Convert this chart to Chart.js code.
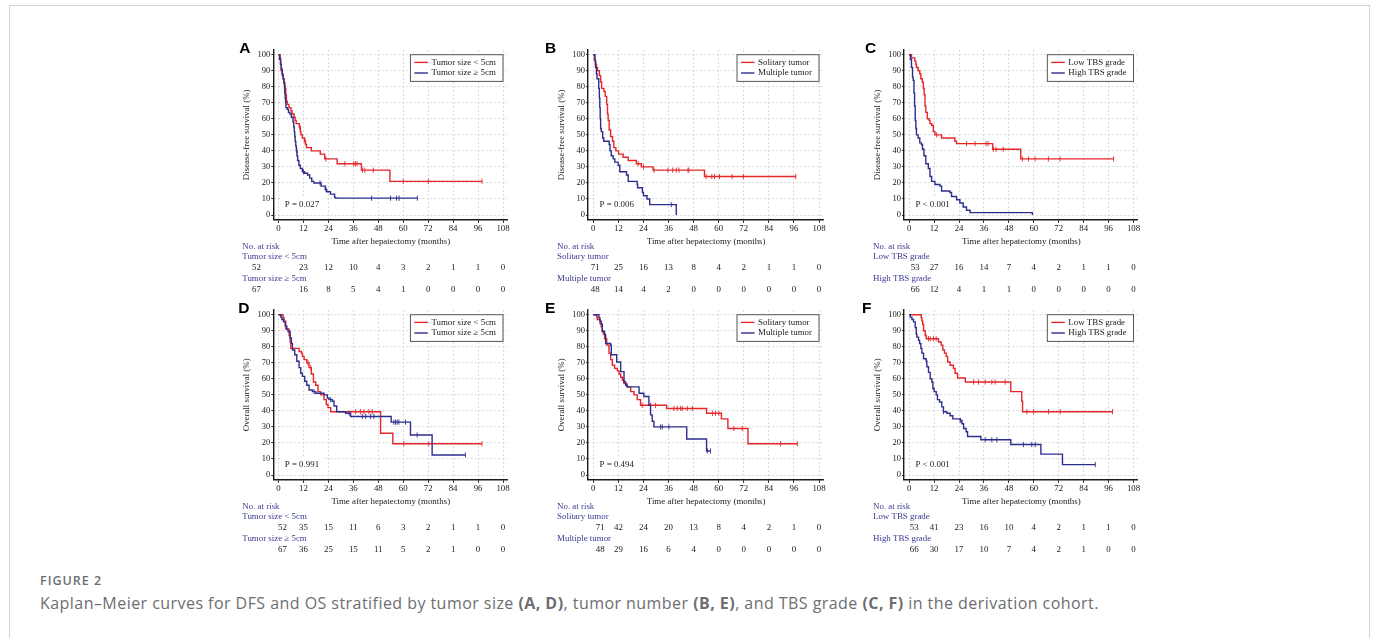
<!DOCTYPE html>
<html>
<head>
<meta charset="utf-8">
<script src="https://cdn.jsdelivr.net/npm/chart.js@4.4.0/dist/chart.umd.min.js"></script>
<style>
html, body { margin: 0; padding: 0; background: #fff; }
body { width: 1373px; height: 638px; position: relative; overflow: hidden; }
#frame { position: absolute; left: 9px; top: 5px; width: 1359px; height: 700px; border: 1px solid #d2d2d2; }
canvas { position: absolute; }
#figlabel { position: absolute; left: 40px; top: 572px; font: 600 12.5px "Open Sans"; letter-spacing: 1px; color: #6d6e71; }
#caption { position: absolute; left: 40px; top: 592px; font: 16px "Open Sans"; letter-spacing: 0.45px; color: #6d6e71; white-space: nowrap; }
#caption b { font-weight: 700; }
</style>
</head>
<body>
<div id="frame"></div>
<div id="figlabel">FIGURE 2</div>
<div id="caption">Kaplan–Meier curves for DFS and OS stratified by tumor size <b>(A, D)</b>, tumor number <b>(B, E)</b>, and TBS grade <b>(C, F)</b> in the derivation cohort.</div>
<script>
// axis ticks
const xTicks = [0, 12, 24, 36, 48, 60, 72, 84, 96, 108];
const yTicks = [0, 10, 20, 30, 40, 50, 60, 70, 80, 90, 100];

// group names
const sizeGroups = ["Tumor size < 5cm", "Tumor size \u2265 5cm"];
const numberGroups = ["Solitary tumor", "Multiple tumor"];
const tbsGroups = ["Low TBS grade", "High TBS grade"];

// DFS curves [month, %]
const dfsSizeLow = [[0,100],[0.8,98],[1.0,94],[1.3,90],[1.8,87],[2.3,85],[2.6,83],[3,81],[3.2,79],[3.5,75],[3.8,71],[4.2,69],[5,67],[6,65],[6.5,63],[7.5,61],[8,59],[8.5,57],[10,55],[10.5,52],[10.8,50],[11.5,48],[12.5,46],[13,44],[13.5,42],[15.8,40],[20.1,38],[22.2,35],[28.2,32],[39.9,28],[53.6,21],[97.9,21]];
const dfsSizeHigh = [[0,100],[0.5,97],[1,94],[1.3,91],[1.8,88],[2.2,85],[2.6,82],[2.9,79],[3,76],[3.2,73],[3.4,70],[3.6,67],[4.2,66],[4.8,64],[5.5,63],[6.2,61],[7,58],[7.3,55],[7.6,52],[7.8,49],[8,46],[8.3,43],[8.6,40],[8.9,37],[9.2,34],[9.8,31],[10.5,29],[11.5,27],[12.5,26],[14,25],[15,23],[16,21],[17,20],[20.5,18],[22.5,16],[23.2,14.5],[25,13],[27,11],[27.5,10.5],[66.8,10.5]];
const dfsSolitary = [[0,100],[0.5,97],[1,94],[1.5,92],[2,90],[2.9,87],[3.5,83],[4,79],[5.1,77],[5.7,74],[6.4,69],[6.8,63],[7.1,59],[7.6,53],[8.3,49],[9.2,46],[9.8,42],[10.8,40],[12.1,38],[14.3,36],[16.7,34],[20.6,32],[23,30],[28.6,28],[53.2,24],[97,24]];
const dfsMultiple = [[0,100],[0.8,96],[1.1,92],[1.5,88],[1.8,85],[2.6,79],[2.9,73],[3.1,67],[3.3,60],[3.5,54],[3.8,52],[4.5,48],[5,46],[7.6,44],[8,40],[8.6,37],[9.5,35],[10.3,33],[11.9,31],[12.7,27],[15.9,25],[16.7,21],[21,19],[21.2,17],[23.5,14],[24,12],[25.7,10],[27,6.5],[39.7,0]];
const dfsTbsLow = [[0,100],[1.1,98],[2.7,96],[3.2,94],[3.5,92],[4.3,90],[5.1,88],[5.6,85],[6.3,83],[6.8,79],[7.2,75],[7.6,68],[8,64],[8.7,60],[9.6,59],[10,57],[10.8,56],[11.6,52],[12.4,50],[15.6,48],[22,46],[22.8,44.5],[40.2,41],[53.7,35],[98.4,35]];
const dfsTbsHigh = [[0,100],[0.6,97],[1.1,92],[1.6,86],[1.9,84],[2.3,76],[2.6,68],[2.9,59],[3.2,54],[3.5,50],[4.3,48],[5.1,45],[5.9,44],[6.4,41],[7.1,37],[8,32],[9.2,29],[10,24],[10.8,21],[12.4,19],[14.8,18],[15.6,15],[19.6,14],[20.4,11.5],[22.8,9.5],[24.4,7.5],[26,5],[27.6,3],[29.3,1.5],[59.3,0]];

// OS curves [month, %]
const osSizeLow = [[0,100],[2.2,98],[2.7,96],[3.5,91],[5.1,87],[5.6,83],[5.9,79],[9.9,77],[11,76],[11.5,74],[12.3,72],[13.6,70],[14.7,67],[15.8,63],[16.8,58],[17.9,56],[19,52],[20.3,50],[21.9,47],[23,44],[23.8,42],[25.1,39.5],[49.1,26],[55,19.5],[97.9,19.5]];
const osSizeHigh = [[0,100],[1.1,98.5],[1.6,97],[2.4,95.5],[3.2,93],[4,91],[4.6,89.5],[5.6,85.5],[6.2,82],[6.7,78],[7.8,75],[8.8,71],[9.9,67],[10.7,63.5],[11.5,61.5],[12.6,58.5],[13.6,56],[14.7,53],[16.3,52],[17.9,51],[21.9,50],[23.5,48],[24.3,47],[25.9,46],[26.7,43],[28,39.5],[32.3,38.5],[34.7,36.5],[54.2,33],[63.5,25],[73.9,12.5],[89.9,12.5]];
const osSolitary = [[0,100],[1.6,98.5],[1.9,97],[3.2,94.5],[3.8,92.5],[4.3,90],[4.8,88],[5.4,85],[6.4,81],[7.5,76],[8.3,72],[9.1,68.5],[10.2,66.5],[11.5,65],[12.3,63],[13.1,61],[13.9,59],[14.7,57],[16,55],[17.9,52],[19.5,50],[21,47],[22.6,43.5],[35.1,41.5],[54.2,38.5],[61.3,35],[64.4,29],[74,19.5],[97.6,19.5]];
const osMultiple = [[0,100],[2.7,98],[3.2,96],[3.8,94],[4.3,89.5],[5.4,87.5],[5.9,82],[8.3,81],[8.6,75],[11.2,70.5],[13.1,64.5],[14.7,58],[15.5,56],[16.3,55],[21.9,51],[24.2,49],[26.6,43.5],[27.4,37.5],[28.2,33.5],[29,30],[44.7,22.5],[54.2,15],[56.1,15]];
const osTbsLow = [[0,100],[5.8,98],[6.1,96],[6.5,94],[6.9,90],[7.7,87],[8.2,85],[14.1,83],[15.4,81],[16.2,78],[17,76],[17.8,74],[18.5,70.5],[19.7,68.5],[21.3,66.5],[22.1,63.5],[23.3,60.5],[27,58],[48.9,52],[54.2,46],[54.6,39.5],[97.9,39.5]];
const osTbsHigh = [[0,100],[0.5,98.5],[1.3,97],[2.1,95.5],[2.9,92],[3.4,88],[3.7,86],[4.5,84],[5,82],[5.6,79],[6.1,76],[6.9,72.5],[8.2,71],[8.5,67.5],[9.3,64],[10.1,60],[10.9,58],[11.4,54],[12,52],[13,50],[13.6,47],[14.6,45.5],[15.7,42.5],[16.5,39.5],[18.1,38.5],[19.7,37],[21,35],[24.6,34],[25.4,32],[26.2,29],[27.4,27],[28.1,24],[34.5,22],[48.9,19],[63.4,13],[73.8,6.5],[89.6,6.5]];

// censored times (months)
const cDfsSizeLow = [10.2, 12.8, 22.8, 31.9, 36.2, 37, 37.8, 40.4, 41.5, 45.6, 60, 72.1, 97.9];
const cDfsSizeHigh = [8.8, 12, 20, 22.8, 44.8, 53.9, 56.8, 58, 66.8];
const cDfsSolitary = [21.5, 24, 29, 35.7, 38, 39.7, 41, 45.3, 45.7, 54, 56.7, 58, 60.4, 66.4, 71.8, 96.9];
const cDfsMultiple = [37.3];
const cDfsTbsLow = [13.2, 27.6, 31.7, 37, 38, 40.5, 41.8, 45.3, 54.5, 57.4, 60.6, 67, 72.6, 98.4];
const cDfsTbsHigh = [];
const cOsSizeLow = [14.2, 15.5, 37.1, 39.5, 41.1, 43.5, 45.1, 60.3, 72.3, 97.9];
const cOsSizeHigh = [17.1, 25.1, 34, 40.3, 41.9, 44.3, 45.9, 55.5, 56.3, 57.1, 57.9, 61.1, 66.7, 89.9];
const cOsSolitary = [14.5, 23.4, 27.4, 29.8, 38.6, 40.2, 41.8, 42.6, 45, 47.4, 57, 58.5, 60.1, 67.3, 71.3, 89.6, 97.6];
const cOsMultiple = [32.2, 33, 36.2, 54.6, 56.1];
const cOsTbsLow = [9.3, 10.1, 11.7, 13, 31, 33.4, 36.6, 39.8, 41.4, 46.2, 56.7, 59.9, 67.1, 72.7, 97.9];
const cOsTbsHigh = [16.5, 24.6, 36.6, 39.8, 42.2, 55, 59, 60.7, 89.6];

// numbers at risk
const riskDfsSizeLow = [52, 23, 12, 10, 4, 3, 2, 1, 1, 0];
const riskDfsSizeHigh = [67, 16, 8, 5, 4, 1, 0, 0, 0, 0];
const riskDfsSolitary = [71, 25, 16, 13, 8, 4, 2, 1, 1, 0];
const riskDfsMultiple = [48, 14, 4, 2, 0, 0, 0, 0, 0, 0];
const riskDfsTbsLow = [53, 27, 16, 14, 7, 4, 2, 1, 1, 0];
const riskDfsTbsHigh = [66, 12, 4, 1, 1, 0, 0, 0, 0, 0];
const riskOsSizeLow = [52, 35, 15, 11, 6, 3, 2, 1, 1, 0];
const riskOsSizeHigh = [67, 36, 25, 15, 11, 5, 2, 1, 0, 0];
const riskOsSolitary = [71, 42, 24, 20, 13, 8, 4, 2, 1, 0];
const riskOsMultiple = [48, 29, 16, 6, 4, 0, 0, 0, 0, 0];
const riskOsTbsLow = [53, 41, 23, 16, 10, 4, 2, 1, 1, 0];
const riskOsTbsHigh = [66, 30, 17, 10, 7, 4, 2, 1, 0, 0];

const RED = "#e5262b";
const BLUE = "#2c2e8c";
const NAVY_TXT = "#3a3a94";
const TXT = "#1a1a1a";
const SERIF = '8.9px "Liberation Serif"';

// page geometry of each column / row (pixel of x=0, x=108, y=100, y=0)
const cols = [{ t0: 278.5, t108: 503 }, { t0: 593.3, t108: 819 }, { t0: 909.2, t108: 1133.5 }];
const rows = [{ y100: 54.7, y0: 215 }, { y100: 314.7, y0: 475 }];
const X_MIN = -2.5, X_MAX = 110, Y_MIN = -3, Y_MAX = 103;

const panels = [
  { letter: "A", col: 0, row: 0, red: dfsSizeLow, blue: dfsSizeHigh, cRed: cDfsSizeLow, cBlue: cDfsSizeHigh, groups: sizeGroups, risk: [riskDfsSizeLow, riskDfsSizeHigh], p: "P = 0.027", title: "Disease-free survival (%)", letterDx: -34, firstShift: -22 },
  { letter: "B", col: 1, row: 0, red: dfsSolitary, blue: dfsMultiple, cRed: cDfsSolitary, cBlue: cDfsMultiple, groups: numberGroups, risk: [riskDfsSolitary, riskDfsMultiple], p: "P = 0.006", title: "Disease-free survival (%)", letterDx: -43, firstShift: 2 },
  { letter: "C", col: 2, row: 0, red: dfsTbsLow, blue: dfsTbsHigh, cRed: cDfsTbsLow, cBlue: cDfsTbsHigh, groups: tbsGroups, risk: [riskDfsTbsLow, riskDfsTbsHigh], p: "P < 0.001", title: "Disease-free survival (%)", letterDx: -39, firstShift: 6 },
  { letter: "D", col: 0, row: 1, red: osSizeLow, blue: osSizeHigh, cRed: cOsSizeLow, cBlue: cOsSizeHigh, groups: sizeGroups, risk: [riskOsSizeLow, riskOsSizeHigh], p: "P = 0.991", title: "Overall survival (%)", letterDx: -35, firstShift: 4 },
  { letter: "E", col: 1, row: 1, red: osSolitary, blue: osMultiple, cRed: cOsSolitary, cBlue: cOsMultiple, groups: numberGroups, risk: [riskOsSolitary, riskOsMultiple], p: "P = 0.494", title: "Overall survival (%)", letterDx: -43, firstShift: 7 },
  { letter: "F", col: 2, row: 1, red: osTbsLow, blue: osTbsHigh, cRed: cOsTbsLow, cBlue: cOsTbsHigh, groups: tbsGroups, risk: [riskOsTbsLow, riskOsTbsHigh], p: "P < 0.001", title: "Overall survival (%)", letterDx: -42, firstShift: 5 }
];

// survival level of a curve at time t (for placing censor ticks)
function levelAt(curve, t) {
  let v = curve[0][1];
  curve.forEach(([x, y]) => { if (x <= t) v = y; });
  return v;
}

function makeExtras(cfg) {
  return {
    id: "extras",
    beforeDatasetsDraw(chart) {
      // P value with white background
      const { ctx, scales: { x, y } } = chart;
      ctx.save();
      ctx.font = SERIF;
      const tx = x.getPixelForValue(3), ty = y.getPixelForValue(6.5);
      const w = ctx.measureText(cfg.p).width;
      const bx = x.getPixelForValue(0.8);
      ctx.fillStyle = "#fff";
      ctx.fillRect(bx, ty - 7.5, tx - bx + w + 4.5, 15);
      ctx.fillStyle = TXT;
      ctx.textBaseline = "middle";
      ctx.fillText(cfg.p, tx, ty);
      ctx.restore();
    },
    afterDraw(chart) {
      const { ctx, chartArea: ca, scales: { x, y } } = chart;
      ctx.save();

      // panel letter
      ctx.font = 'bold 15.5px "Liberation Sans"';
      ctx.fillStyle = "#000";
      ctx.textBaseline = "middle";
      ctx.textAlign = "left";
      ctx.fillText(cfg.letter, ca.left + cfg.letterDx, ca.top - 1.5);

      // y title
      ctx.font = SERIF;
      ctx.fillStyle = TXT;
      ctx.save();
      ctx.translate(ca.left - 26.5, (y.getPixelForValue(0) + y.getPixelForValue(100)) / 2);
      ctx.rotate(-Math.PI / 2);
      ctx.textAlign = "center";
      ctx.fillText(cfg.title, 0, 0);
      ctx.restore();

      // x title
      ctx.textAlign = "center";
      ctx.fillText("Time after hepatectomy (months)", (x.getPixelForValue(0) + x.getPixelForValue(108)) / 2, ca.bottom + 22);

      // legend box
      const names = cfg.groups;
      const cols2 = [RED, BLUE];
      const tw = Math.max(...names.map(n => ctx.measureText(n).width));
      const bw = tw + 28, bh = 26.7;
      const bx = x.getPixelForValue(108) - bw, by = y.getPixelForValue(100);
      ctx.fillStyle = "#fff";
      ctx.fillRect(bx, by, bw, bh);
      ctx.strokeStyle = "#555";
      ctx.lineWidth = 1;
      ctx.strokeRect(bx, by, bw, bh);
      names.forEach((n, i) => {
        const ly = by + 7.7 + i * 10.6;
        ctx.strokeStyle = cols2[i];
        ctx.lineWidth = 1.4;
        ctx.beginPath();
        ctx.moveTo(bx + 4, ly);
        ctx.lineTo(bx + 17.5, ly);
        ctx.stroke();
        ctx.fillStyle = TXT;
        ctx.textAlign = "left";
        ctx.fillText(n, bx + 21, ly);
      });

      // number at risk table
      const lx = ca.left - 31;
      ctx.textAlign = "left";
      ctx.fillStyle = NAVY_TXT;
      ctx.fillText("No. at risk", lx, ca.bottom + 27);
      cfg.risk.forEach((vals, g) => {
        ctx.fillStyle = NAVY_TXT;
        ctx.textAlign = "left";
        ctx.fillText(names[g], lx, ca.bottom + 37 + g * 21.5);
        ctx.fillStyle = TXT;
        ctx.textAlign = "center";
        vals.forEach((v, i) => {
          const px = x.getPixelForValue(xTicks[i]) + (i === 0 ? cfg.firstShift : 0);
          ctx.fillText(String(v), px, ca.bottom + 48 + g * 21.5);
        });
      });
      ctx.restore();
    }
  };
}

function curveSet(curve, color, order) {
  return {
    data: curve.map(([t, s]) => ({ x: t, y: s })),
    showLine: true,
    stepped: true,
    borderColor: color,
    borderWidth: 1.4,
    pointRadius: 0,
    order: order
  };
}

function censorSet(curve, times, color, order) {
  return {
    data: times.map(t => ({ x: t, y: levelAt(curve, t) })),
    showLine: false,
    pointStyle: "line",
    rotation: 90,
    pointRadius: 2.6,
    borderWidth: 0.9,
    borderColor: color,
    backgroundColor: color,
    order: order
  };
}

panels.forEach(cfg => {
  const c = cols[cfg.col], r = rows[cfg.row];
  const ppm = (c.t108 - c.t0) / 108;
  const ppu = (r.y0 - r.y100) / 100;
  const left = c.t0 + X_MIN * ppm, right = c.t0 + X_MAX * ppm;
  const top = r.y0 - Y_MAX * ppu, bottom = r.y0 - Y_MIN * ppu;

  const cx = Math.floor(left - 50), cy = Math.floor(top - 14);
  const cw = Math.ceil(right + 12 - cx), ch = Math.ceil(bottom + 76 - cy);
  const canvas = document.createElement("canvas");
  canvas.width = cw; canvas.height = ch;
  canvas.style.left = cx + "px"; canvas.style.top = cy + "px";
  canvas.style.width = cw + "px"; canvas.style.height = ch + "px";
  document.body.appendChild(canvas);

  new Chart(canvas, {
    type: "scatter",
    data: {
      datasets: [
        curveSet(cfg.blue, BLUE, 0),
        curveSet(cfg.red, RED, 1),
        censorSet(cfg.blue, cfg.cBlue, BLUE, 0),
        censorSet(cfg.red, cfg.cRed, RED, 1)
      ]
    },
    options: {
      responsive: false,
      animation: false,
      events: [],
      layout: { padding: { left: left - 50 - cx, top: top - cy, right: cx + cw - right, bottom: cy + ch - bottom - 76 } },
      plugins: { legend: { display: false }, tooltip: { enabled: false } },
      scales: {
        x: {
          type: "linear", min: X_MIN, max: X_MAX,
          afterBuildTicks: s => { s.ticks = xTicks.map(v => ({ value: v })); },
          afterFit: s => { s.height = 76; },
          grid: { color: "#cfcfcf", lineWidth: 0.8, tickColor: "#222", tickLength: 3, tickWidth: 1 },
          border: { display: true, color: "#1a1a1a", width: 1.4, dash: [2, 2] },
          ticks: { font: { family: "Liberation Serif", size: 8.8 }, color: TXT, padding: 1, maxRotation: 0, autoSkip: false }
        },
        y: {
          type: "linear", min: Y_MIN, max: Y_MAX,
          afterBuildTicks: s => { s.ticks = yTicks.map(v => ({ value: v })); },
          afterFit: s => { s.width = 50; },
          grid: { color: "#cfcfcf", lineWidth: 0.8, tickColor: "#222", tickLength: 2, tickWidth: 1 },
          border: { display: true, color: "#1a1a1a", width: 1.4, dash: [2, 2] },
          ticks: { font: { family: "Liberation Serif", size: 8.5 }, color: TXT, padding: 1, autoSkip: false }
        }
      }
    },
    plugins: [makeExtras(cfg)]
  });
});
</script>
</body>
</html>
